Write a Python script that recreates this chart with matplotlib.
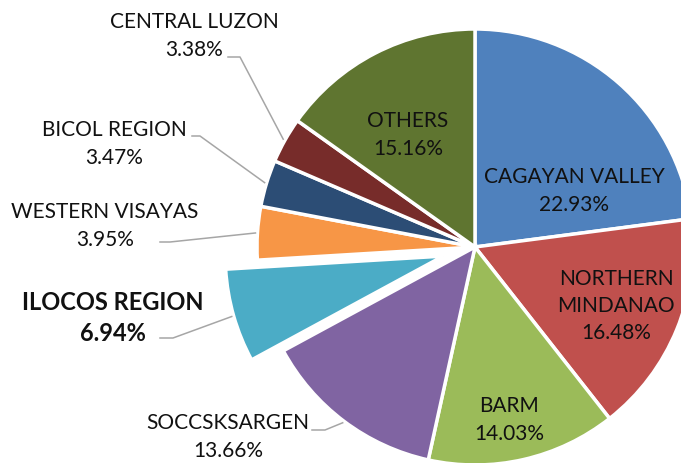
import numpy as np
import matplotlib.pyplot as plt

names = ['CAGAYAN VALLEY', 'NORTHERN\nMINDANAO', 'BARM', 'SOCCSKSARGEN',
         'ILOCOS REGION', 'WESTERN VISAYAS', 'BICOL REGION', 'CENTRAL LUZON', 'OTHERS']
values = [22.93, 16.48, 14.03, 13.66, 6.94, 3.95, 3.47, 3.38, 15.16]
colors = ['#4F81BD', '#C0504D', '#9BBB59', '#8064A2', '#4BACC6',
          '#F79646', '#2C4D75', '#772C2A', '#5F7530']

W, H = 681, 463
cx, cy, R = 475, 247, 218          # image coords (y down)
explode = [0, 0, 0, 0, 33, 0, 0, 0, 0]

# label text centres (image coords)
text_pos = [(574, 191), (616, 306), (509, 420), (228, 437), (113, 318),
            (105, 226), (114, 144), (194, 36), (408, 135)]
# outside labels: leader line start y, x0, x1 (image coords)
leader = {3: (312, 430, 325), 4: (160, 338, 173), 5: (160, 242, 170),
          6: (192, 136, 200), 7: (228, 57, 240)}

plt.rcParams['font.family'] = ['Lato', 'DejaVu Sans']

fig = plt.figure(figsize=(W / 100, H / 100), dpi=100)
ax = fig.add_axes([0, 0, 1, 1])
ax.pie(values, colors=colors, startangle=90, counterclock=False,
       center=(cx, H - cy), radius=R, explode=explode,
       wedgeprops=dict(edgecolor='white', linewidth=2.5))
ax.set_xlim(0, W)
ax.set_ylim(0, H)
ax.set_aspect('equal')
ax.axis('off')

cum = np.cumsum([0] + values) / sum(values)
for i, (name, v) in enumerate(zip(names, values)):
    x, y = text_pos[i]
    if name == 'ILOCOS REGION':
        ax.text(x, H - y, f'{name}\n{v:.2f}%', ha='center', va='center',
                fontsize=17, fontweight='bold', color='#111111', linespacing=1.4)
    else:
        ax.text(x, H - y, f'{name}\n{v:.2f}%', ha='center', va='center',
                fontsize=15, color='#111111', linespacing=1.45)
    if i in leader:
        x0, y0, x1 = leader[i]
        mid = (cum[i] + cum[i + 1]) / 2
        ang = np.deg2rad(90 - 360 * mid)
        r = R + explode[i] + 2
        px = cx + r * np.cos(ang)
        py = cy - r * np.sin(ang)
        ax.plot([x0, x1, px], [H - y0, H - y0, H - py], color='#A6A6A6', lw=1.1)

fig.savefig('out.png', dpi=100)
